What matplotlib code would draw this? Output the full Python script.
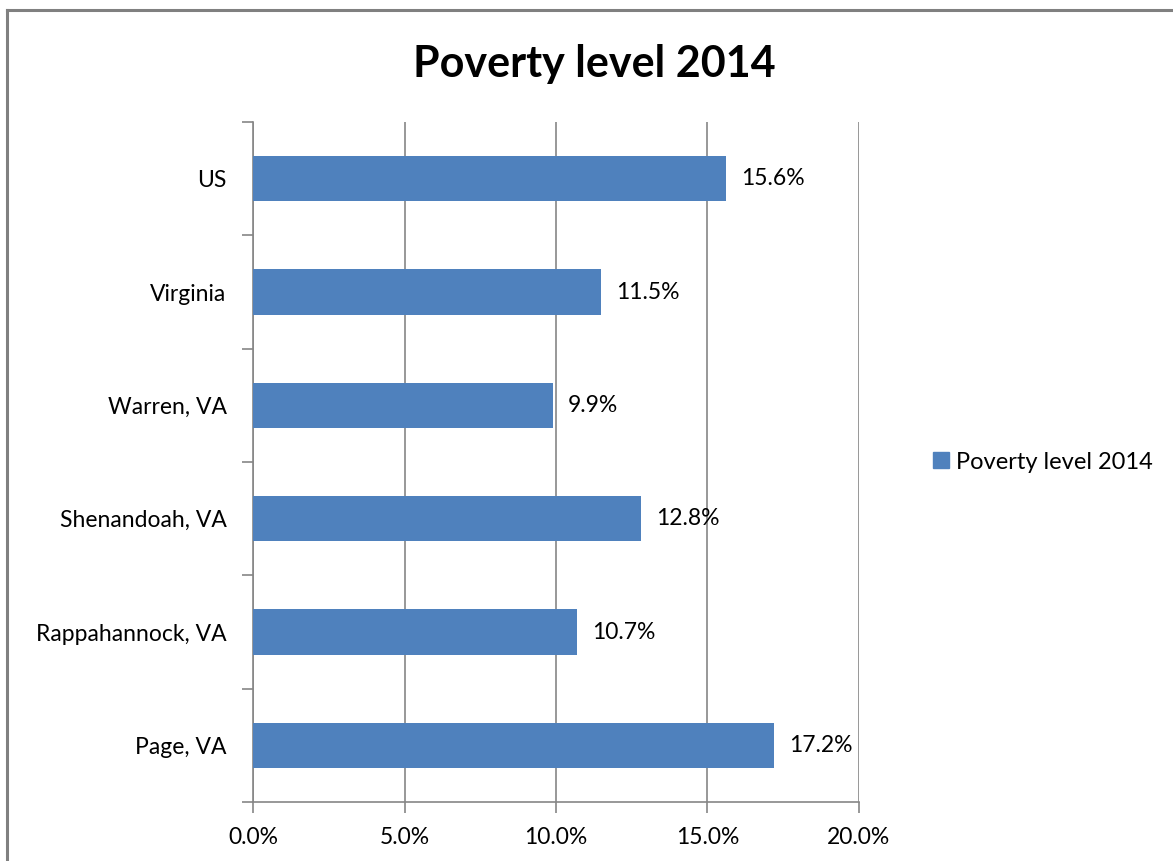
import matplotlib.pyplot as plt
from matplotlib.lines import Line2D
from matplotlib.ticker import FuncFormatter

# poverty rates, bottom to top as drawn
areas = ['Page, VA', 'Rappahannock, VA', 'Shenandoah, VA', 'Warren, VA', 'Virginia', 'US']
poverty = [17.2, 10.7, 12.8, 9.9, 11.5, 15.6]
series_name = 'Poverty level 2014'
xticks = [0, 5, 10, 15, 20]

bar_color = '#4F81BD'
grid_color = '#868686'

plt.rcParams['font.family'] = ['Lato', 'DejaVu Sans']

fig = plt.figure(figsize=(11.73, 8.61), dpi=100)
ax = fig.add_axes([0.2157, 0.0685, 0.5166, 0.7898])

pos = list(range(len(areas)))
bars = ax.barh(pos, poverty, height=0.4, color=bar_color, zorder=3, label=series_name)

for y, v in zip(pos, poverty):
    ax.text(v + 0.5, y, f'{v:.1f}%', va='center', ha='left', fontsize=16.5, zorder=4)

ax.set_xlim(0, 20)
ax.set_ylim(-0.5, len(areas) - 0.5)
ax.set_xticks(xticks)
ax.xaxis.set_major_formatter(FuncFormatter(lambda v, _: f'{v:.1f}%'))
ax.set_yticks(pos)
ax.set_yticklabels(areas)
# category separators on the y axis
ax.set_yticks([p - 0.5 for p in pos] + [len(areas) - 0.5], minor=True)
ax.tick_params(axis='y', which='major', length=0, pad=19, labelsize=16.5)
ax.tick_params(axis='y', which='minor', length=8, width=1.2, color=grid_color)
ax.tick_params(axis='x', length=8, width=1.2, color=grid_color, labelsize=16.5, pad=10)

ax.grid(axis='x', color=grid_color, linewidth=1.2, zorder=0)
for side in ['top', 'right']:
    ax.spines[side].set_visible(False)
for side in ['left', 'bottom']:
    ax.spines[side].set_color(grid_color)
    ax.spines[side].set_linewidth(1.2)

fig.text(0.507, 0.926, series_name, ha='center', va='center', fontsize=31, fontweight='bold')

ax.legend(handles=[Line2D([], [], marker='s', linestyle='none', markersize=12,
                          color=bar_color)],
          labels=[series_name], loc='center left', bbox_to_anchor=(1.08, 0.5),
          frameon=False, fontsize=17, handletextpad=0.15, handlelength=1.0)

# chart frame
fig.add_artist(Line2D([0.006, 0.006], [0, 0.9885], color='#808080', lw=2.2))
fig.add_artist(Line2D([0.006, 1], [0.9885, 0.9885], color='#808080', lw=2.2))

fig.savefig('out.png', dpi=100)
